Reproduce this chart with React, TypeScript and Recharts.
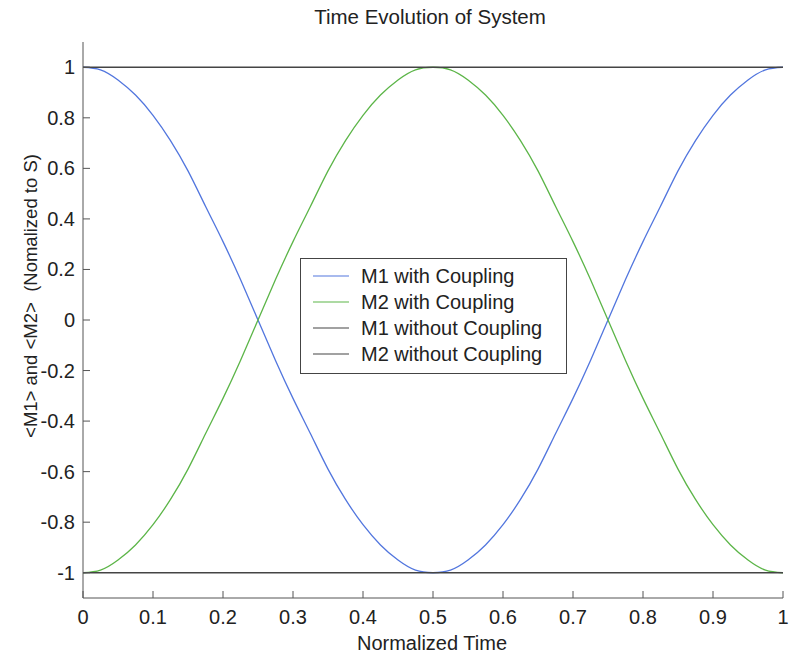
import React from 'react';
import { LineChart, Line, XAxis, YAxis } from 'recharts';

// normalized time, step 0.025
const times = [
  0, 0.025, 0.05, 0.075, 0.1, 0.125, 0.15, 0.175, 0.2, 0.225,
  0.25, 0.275, 0.3, 0.325, 0.35, 0.375, 0.4, 0.425, 0.45, 0.475,
  0.5, 0.525, 0.55, 0.575, 0.6, 0.625, 0.65, 0.675, 0.7, 0.725,
  0.75, 0.775, 0.8, 0.825, 0.85, 0.875, 0.9, 0.925, 0.95, 0.975, 1,
];

const m1Coupled = [
  1, 0.99, 0.95, 0.89, 0.81, 0.71, 0.59, 0.45, 0.31, 0.16,
  0, -0.16, -0.31, -0.45, -0.59, -0.71, -0.81, -0.89, -0.95, -0.99,
  -1, -0.99, -0.95, -0.89, -0.81, -0.71, -0.59, -0.45, -0.31, -0.16,
  0, 0.16, 0.31, 0.45, 0.59, 0.71, 0.81, 0.89, 0.95, 0.99, 1,
];
const m2Coupled = [
  -1, -0.99, -0.95, -0.89, -0.81, -0.71, -0.59, -0.45, -0.31, -0.16,
  0, 0.16, 0.31, 0.45, 0.59, 0.71, 0.81, 0.89, 0.95, 0.99,
  1, 0.99, 0.95, 0.89, 0.81, 0.71, 0.59, 0.45, 0.31, 0.16,
  0, -0.16, -0.31, -0.45, -0.59, -0.71, -0.81, -0.89, -0.95, -0.99, -1,
];
const m1Free = times.map(() => 1);
const m2Free = times.map(() => -1);

const seriesNames = ['M1 with Coupling', 'M2 with Coupling', 'M1 without Coupling', 'M2 without Coupling'];
const seriesColors = ['#5276de', '#5cb548', '#444', '#444'];

const xTicks = [0, 0.1, 0.2, 0.3, 0.4, 0.5, 0.6, 0.7, 0.8, 0.9, 1];
const yTicks = [-1, -0.8, -0.6, -0.4, -0.2, 0, 0.2, 0.4, 0.6, 0.8, 1];

const data = times.map((t, i) => ({
  t,
  m1c: m1Coupled[i],
  m2c: m2Coupled[i],
  m1f: m1Free[i],
  m2f: m2Free[i],
}));

const FONT = '"Liberation Sans", Arial, sans-serif';
const FRAME = '#555';
const TEXT = '#222';
const TICK_LEN = 7;

const fmt = (v: number) => String(Math.round(v * 10) / 10);

const BottomTick = (props: any) => {
  const { x, y, payload } = props;
  return (
    <g>
      <line x1={x} y1={y} x2={x} y2={y - TICK_LEN} stroke={FRAME} />
      <text x={x} y={y + 26} textAnchor="middle" fontSize={20} fill={TEXT} fontFamily={FONT}>
        {fmt(payload.value)}
      </text>
    </g>
  );
};

const TopTick = (props: any) => {
  const { x, y } = props;
  return <line x1={x} y1={y} x2={x} y2={y + TICK_LEN} stroke={FRAME} />;
};

const LeftTick = (props: any) => {
  const { x, y, payload } = props;
  return (
    <g>
      <line x1={x} y1={y} x2={x + TICK_LEN} y2={y} stroke={FRAME} />
      <text x={x - 8} y={y + 7} textAnchor="end" fontSize={20} fill={TEXT} fontFamily={FONT}>
        {fmt(payload.value)}
      </text>
    </g>
  );
};

const RightTick = (props: any) => {
  const { x, y } = props;
  return <line x1={x} y1={y} x2={x - TICK_LEN} y2={y} stroke={FRAME} />;
};

const LegendBox = () => (
  <div
    style={{
      position: 'absolute',
      left: 300,
      top: 258,
      width: 265,
      border: '1px solid #444',
      background: '#fff',
      padding: '4px 0 6px 0',
      fontFamily: FONT,
      fontSize: 20,
      color: TEXT,
    }}
  >
    {seriesNames.map((name, i) => (
      <div key={name} style={{ display: 'flex', alignItems: 'center', height: 26 }}>
        <svg width={60} height={10}>
          <line x1={12} y1={5} x2={48} y2={5} stroke={seriesColors[i]} strokeWidth={1.2} />
        </svg>
        <span>{name}</span>
      </div>
    ))}
  </div>
);

export default function App() {
  return (
    <div style={{ position: 'absolute', left: 0, top: 0, width: 791, height: 660, background: '#fff' }}>
      <LineChart width={791} height={660} data={data} margin={{ top: 42, right: 8, bottom: 0, left: 0 }}>
        <XAxis
          dataKey="t"
          type="number"
          domain={[0, 1]}
          ticks={xTicks}
          tickSize={0}
          tickMargin={0}
          tickLine={false}
          tick={<BottomTick />}
          stroke={FRAME}
          height={62}
          interval={0}
        />
        <XAxis
          xAxisId="top"
          orientation="top"
          dataKey="t"
          type="number"
          domain={[0, 1]}
          ticks={xTicks}
          tickSize={0}
          tickMargin={0}
          tickLine={false}
          tick={<TopTick />}
          stroke={FRAME}
          height={0}
          interval={0}
        />
        <YAxis
          type="number"
          domain={[-1.1, 1.1]}
          ticks={yTicks}
          tickSize={0}
          tickMargin={0}
          tickLine={false}
          tick={<LeftTick />}
          stroke={FRAME}
          width={83}
          interval={0}
        />
        <YAxis
          yAxisId="right"
          orientation="right"
          type="number"
          domain={[-1.1, 1.1]}
          ticks={yTicks}
          tickSize={0}
          tickMargin={0}
          tickLine={false}
          tick={<RightTick />}
          stroke={FRAME}
          width={0}
          interval={0}
        />
        <text x={430} y={24} textAnchor="middle" fontSize={20.5} fill={TEXT} fontFamily={FONT}>
          Time Evolution of System
        </text>
        <text x={432} y={650} textAnchor="middle" fontSize={20} fill={TEXT} fontFamily={FONT}>
          Normalized Time
        </text>
        <text
          x={0}
          y={0}
          transform="translate(37 296) rotate(-90)"
          textAnchor="middle"
          fontSize={18.5}
          fill={TEXT}
          fontFamily={FONT}
          style={{ whiteSpace: 'pre' }}
        >
          {'<M1> and <M2>  (Nomalized to S)'}
        </text>
        <Line dataKey="m1c" name={seriesNames[0]} stroke={seriesColors[0]} strokeWidth={1.3} dot={false} type="natural" isAnimationActive={false} />
        <Line dataKey="m2c" name={seriesNames[1]} stroke={seriesColors[1]} strokeWidth={1.3} dot={false} type="natural" isAnimationActive={false} />
        <Line dataKey="m1f" name={seriesNames[2]} stroke={seriesColors[2]} strokeWidth={1.3} dot={false} type="linear" isAnimationActive={false} />
        <Line dataKey="m2f" name={seriesNames[3]} stroke={seriesColors[3]} strokeWidth={1.3} dot={false} type="linear" isAnimationActive={false} />
      </LineChart>
      <LegendBox />
    </div>
  );
}
